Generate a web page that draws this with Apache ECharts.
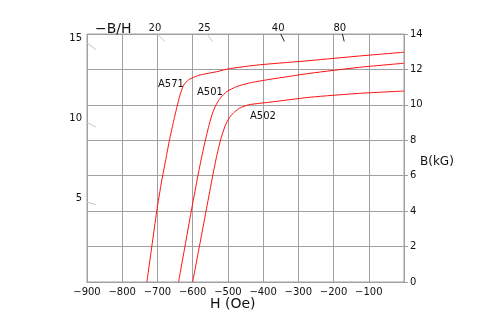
<!DOCTYPE html>
<html>
<head>
<meta charset="utf-8">
<script src="https://cdn.jsdelivr.net/npm/echarts@6/dist/echarts.min.js"></script>
<style>
  html, body { margin: 0; padding: 0; background: #fff; }
  #chart { width: 501px; height: 329px; }
</style>
</head>
<body>
<div id="chart"></div>
<script>
// Demagnetization curves: H (Oe) vs B (kG)
const curveNames = ['A571', 'A501', 'A502'];

const curveA571 = [
  [-730, 0], [-716, 2], [-702, 4], [-688, 5.7], [-675, 7.05], [-666, 8],
  [-655, 9.0], [-645, 9.85], [-636, 10.55], [-626, 11.1], [-612, 11.41],
  [-593, 11.59], [-579, 11.69], [-532, 11.87], [-499, 12.03], [-437, 12.2],
  [-400, 12.28], [-267, 12.5], [-126, 12.76], [0, 12.97]
];

const curveA501 = [
  [-640, 0], [-622, 2], [-604, 4], [-588, 5.7], [-575, 7.0], [-564, 8],
  [-553, 8.9], [-542, 9.62], [-533, 10.02], [-522, 10.37], [-503, 10.75],
  [-475, 11.03], [-442, 11.22], [-400, 11.38], [-267, 11.78], [-126, 12.12],
  [0, 12.35]
];

const curveA502 = [
  [-600, 0], [-581, 2], [-562, 4], [-546, 5.7], [-533, 7.0], [-521, 8.0],
  [-508, 8.8], [-495, 9.3], [-480, 9.62], [-466, 9.82], [-442, 10.0],
  [-409, 10.09], [-381, 10.15], [-267, 10.43], [-126, 10.65], [0, 10.78]
];

// Permeance (-B/H) marks along the top edge and the left edge
const permTop = [20, 25, 40, 80];
const permTopColor = ['#c4c4c4', '#c4c4c4', '#222', '#222'];
const permLeft = [5, 10, 15];

const H_MIN = -900, H_MAX = 0, B_MAX = 14;
const FONT = 'DejaVu Sans';
const GRID_COLOR = '#a0a0a0';

const chart = echarts.init(document.getElementById('chart'), null, { renderer: 'canvas' });

// short segment of the line B = k * |H| / 1000 starting at a frame edge
function topSeg(k) {
  const h0 = -B_MAX * 1000 / k;
  const b1 = B_MAX - 0.42;
  return [[h0, B_MAX], [-b1 * 1000 / k, b1]];
}
function leftSeg(k) {
  const h1 = H_MIN + 25;
  return [[H_MIN, k * -H_MIN / 1000], [h1, k * -h1 / 1000]];
}

const series = [];
[curveA571, curveA501, curveA502].forEach((d, i) => {
  series.push({
    name: curveNames[i], type: 'line', data: d, smooth: 0.2,
    showSymbol: false, lineStyle: { color: '#ff1010', width: 1 }, z: 5
  });
});
permTop.forEach((k, i) => {
  series.push({
    type: 'line', data: topSeg(k), showSymbol: false, silent: true,
    lineStyle: { color: permTopColor[i], width: 1 }
  });
});
permLeft.forEach(k => {
  series.push({
    type: 'line', data: leftSeg(k), showSymbol: false, silent: true,
    lineStyle: { color: '#c4c4c4', width: 1 }
  });
});

chart.setOption({
  animation: false,
  backgroundColor: '#fff',
  grid: {
    left: 87, right: 97, top: 34, bottom: 47,
    show: true, borderColor: GRID_COLOR, borderWidth: 1
  },
  xAxis: {
    type: 'value', min: H_MIN, max: H_MAX, interval: 100,
    axisLine: { lineStyle: { color: GRID_COLOR } },
    axisTick: { show: false },
    splitLine: { show: true, lineStyle: { color: GRID_COLOR, width: 1 } },
    axisLabel: {
      margin: 5, color: '#111', fontFamily: FONT, fontSize: 10,
      formatter: v => (v === 0 ? '' : '\u2212' + Math.abs(v))
    }
  },
  yAxis: {
    type: 'value', position: 'right', min: 0, max: B_MAX, interval: 2,
    axisLine: { show: true, lineStyle: { color: GRID_COLOR } },
    axisTick: { show: true, length: 4, lineStyle: { color: GRID_COLOR } },
    splitLine: { show: true, lineStyle: { color: GRID_COLOR, width: 1 } },
    axisLabel: { margin: 6, color: '#111', fontFamily: FONT, fontSize: 10 }
  },
  series: series
});

// text placed from data positions of the permeance marks
const texts = [];
permTop.forEach(k => {
  const p = chart.convertToPixel({ gridIndex: 0 }, [-B_MAX * 1000 / k, B_MAX]);
  texts.push({
    type: 'text', x: p[0] - 2.5, y: p[1] - 1,
    style: { text: String(k), font: '10px "' + FONT + '"', fill: '#111',
             textAlign: 'center', textVerticalAlign: 'bottom' }
  });
});
permLeft.forEach(k => {
  const p = chart.convertToPixel({ gridIndex: 0 }, [H_MIN, k * -H_MIN / 1000]);
  texts.push({
    type: 'text', x: p[0] - 5, y: p[1] - 4,
    style: { text: String(k), font: '10px "' + FONT + '"', fill: '#111',
             textAlign: 'right', textVerticalAlign: 'middle' }
  });
});

const labelStyle = (t, x, y) => ({
  type: 'text', x: x, y: y,
  style: { text: t, font: '10px "' + FONT + '"', fill: '#111', textVerticalAlign: 'middle' }
});

chart.setOption({
  graphic: texts.concat([
    { type: 'text', x: 95, y: 29,
      style: { text: '\u2212B/H', font: '14px "' + FONT + '"', fill: '#111', textVerticalAlign: 'middle' } },
    { type: 'text', x: 210, y: 304,
      style: { text: 'H (Oe)', font: '14px "' + FONT + '"', fill: '#111', textVerticalAlign: 'middle' } },
    { type: 'text', x: 420, y: 162,
      style: { text: 'B(kG)', font: '12px "' + FONT + '"', fill: '#111', textVerticalAlign: 'middle' } },
    labelStyle(curveNames[0], 158, 84),
    labelStyle(curveNames[1], 197, 92.5),
    labelStyle(curveNames[2], 250, 116)
  ])
});
</script>
</body>
</html>
